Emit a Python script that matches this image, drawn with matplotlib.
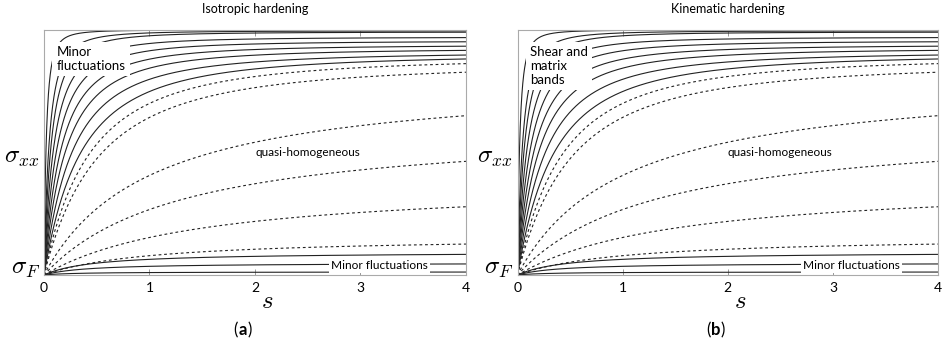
import numpy as np
import matplotlib
matplotlib.use("Agg")
import matplotlib.pyplot as plt

plt.rcParams['font.family'] = ['Lato', 'DejaVu Sans']
plt.rcParams['mathtext.fontset'] = 'cm'

# stress reached at s = 4 (0 = sigma_F, 1 = top of the axes), rate constant tau
# and shape exponent n of the saturation law
solid_top_level = [0.998, 0.994, 0.989, 0.967, 0.950, 0.932, 0.915, 0.896, 0.880]
solid_top_tau = [0.022, 0.051, 0.072, 0.098, 0.129, 0.166, 0.210, 0.270, 0.350]
dashed_level = [0.861, 0.826, 0.649, 0.463, 0.278, 0.126]
dashed_tau = [0.43, 0.51, 1.00, 1.30, 1.50, 1.00]
dashed_n = [2, 2, 1, 1, 1, 1]
solid_low_level = [0.084, 0.045, 0.012]
solid_low_tau = [0.47, 0.40, 0.30]

titles = ["Isotropic hardening", "Kinematic hardening"]
panel_tags = ["a", "b"]
corner_notes = ["Minor\nfluctuations", "Shear and\nmatrix\nbands"]
corner_note_y = [0.88, 0.852]
s_ticks = [0, 1, 2, 3, 4]

s = np.linspace(0, 4, 4000)


def curve(level, tau, n=1):
    # saturation law 1 - (1 + s/(n*tau))^-n, scaled to end at `level` for s = 4
    f = 1 - (1 + s / (n * tau)) ** (-n)
    return level * f / f[-1]


fig = plt.figure(figsize=(9.45, 3.46), dpi=100)
axes = [fig.add_axes([44 / 945, 71 / 346, 422 / 945, 245.5 / 346]),
        fig.add_axes([517.5 / 945, 71 / 346, 420.5 / 945, 245.5 / 346])]

for i, ax in enumerate(axes):
    for lv, t in zip(solid_top_level, solid_top_tau):
        ax.plot(s, curve(lv, t, 2), color='#222222', lw=0.8)
    for lv, t, n in zip(dashed_level, dashed_tau, dashed_n):
        ax.plot(s, curve(lv, t, n), color='#222222', lw=0.8, ls=(0, (2.5, 2.5)))
    for lv, t in zip(solid_low_level, solid_low_tau):
        ax.plot(s, curve(lv, t, 1), color='#222222', lw=0.8)

    ax.set_xlim(0, 4)
    ax.set_ylim(0, 1)
    ax.set_xticks(s_ticks)
    ax.set_xticklabels([str(v) for v in s_ticks], fontsize=10)
    ax.set_yticks([])
    ax.tick_params(axis='x', direction='in', top=True, length=4, width=0.6,
                   color='#888888', pad=5)
    for sp in ax.spines.values():
        sp.set_color('#aaaaaa')
        sp.set_linewidth(0.8)

    ax.annotate(r'$s$', xy=(2.12, 0), xycoords=('data', 'axes fraction'),
                xytext=(0, -25), textcoords='offset pixels',
                ha='center', va='center', fontsize=18)
    ax.annotate(r'$\sigma_F$', xy=(0, 0), xycoords='axes fraction',
                xytext=(-4, 1), textcoords='offset pixels',
                ha='right', va='baseline', fontsize=18)
    ax.annotate(r'$\sigma_{xx}$', xy=(0, 0.456), xycoords='axes fraction',
                xytext=(-5, 0), textcoords='offset pixels',
                ha='right', va='baseline', fontsize=18)
    ax.set_title(titles[i], fontsize=9, pad=12)

    ax.text(0.12, corner_note_y[i], corner_notes[i], fontsize=9.5, ha='left',
            va='center', linespacing=1.2, zorder=5,
            bbox=dict(facecolor='white', edgecolor='none', pad=3))
    ax.text(2.5, 0.50, "quasi-homogeneous", fontsize=8.5, ha='center', va='center')
    ax.text(3.18, 0.04, "Minor fluctuations", fontsize=8.6, ha='center', va='center',
            zorder=5, bbox=dict(facecolor='white', edgecolor='none', pad=1.5))

    # panel tag: "(" and ")" regular, letter bold
    xc = (ax.get_position().x0 + ax.get_position().x1) / 2 - 12 / 945
    fig.text(xc, 16 / 346, panel_tags[i], ha='center', va='center',
             fontsize=12, fontweight='bold')
    fig.text(xc - 5 / 945, 16 / 346, "(", ha='right', va='center', fontsize=12)
    fig.text(xc + 5 / 945, 16 / 346, ")", ha='left', va='center', fontsize=12)

fig.savefig("out.png", dpi=100)
